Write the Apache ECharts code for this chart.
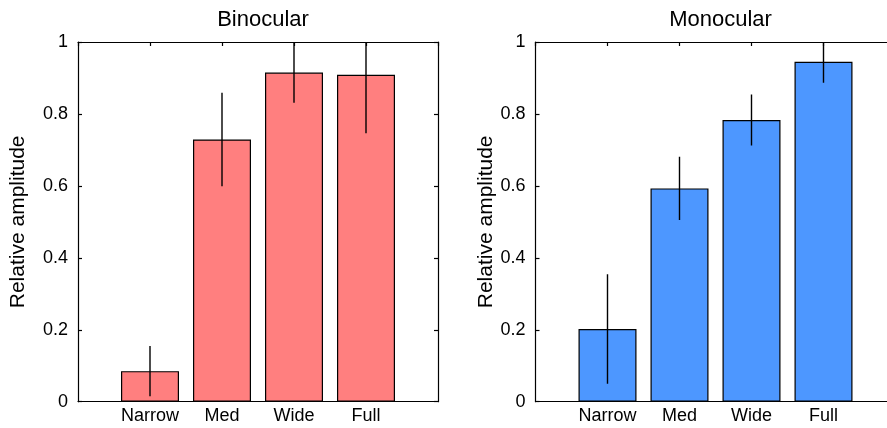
<!DOCTYPE html>
<html>
<head>
<meta charset="utf-8">
<script src="https://cdn.jsdelivr.net/npm/echarts@6/dist/echarts.min.js"></script>
<style>
html,body{margin:0;padding:0;background:#fff;overflow:hidden;}
#chart{width:887px;height:428px;}
</style>
</head>
<body>
<div id="chart"></div>
<script>
var categories = ['Narrow', 'Med', 'Wide', 'Full'];
var panelTitles = ['Binocular', 'Monocular'];
var yTicks = [0, 0.2, 0.4, 0.6, 0.8, 1];
var binocularValues = [0.085, 0.729, 0.915, 0.909];
var binocularErrors = [0.070, 0.130, 0.084, 0.163];
var monocularValues = [0.202, 0.593, 0.783, 0.945];
var monocularErrors = [0.152, 0.088, 0.071, 0.058];

var FONT = 'Liberation Sans, Arial, Helvetica, sans-serif';
var colors = ['#FF7F7F', '#4D97FF'];
var panels = [
  {left: 78, width: 360, values: binocularValues, errors: binocularErrors, gap: 49, rightLine: true},
  {left: 535.5, width: 360, values: monocularValues, errors: monocularErrors, gap: 38, rightLine: false}
];

var grids = [], xAxes = [], yAxes = [], series = [], titles = [];
var lineStyle = {color: '#000', width: 1.2};
panels.forEach(function (p, i) {
  grids.push({left: p.left, top: 42, width: p.width, height: 359.7, containLabel: false, outerBoundsMode: 'none'});
  titles.push({
    text: panelTitles[i], left: p.left + p.width / 2, top: 4, textAlign: 'center',
    textStyle: {fontFamily: FONT, fontSize: 22, fontWeight: 'normal', color: '#000'}
  });
  xAxes.push({
    gridIndex: i, type: 'value', min: 0, max: categories.length + 1, interval: 1,
    position: 'bottom',
    axisLine: {show: true, onZero: false, lineStyle: lineStyle},
    axisTick: {show: true, inside: true, length: 4, lineStyle: lineStyle},
    axisLabel: {
      fontFamily: FONT, fontSize: 18, color: '#000', margin: 5,
      showMinLabel: false, showMaxLabel: false,
      formatter: function (v) { return categories[v - 1] || ''; }
    },
    splitLine: {show: false}
  });
  xAxes.push({
    gridIndex: i, type: 'value', min: 0, max: categories.length + 1, interval: 1,
    position: 'top',
    axisLine: {show: true, onZero: false, lineStyle: lineStyle},
    axisTick: {show: true, inside: true, length: 4, lineStyle: lineStyle},
    axisLabel: {show: false},
    splitLine: {show: false}
  });
  yAxes.push({
    gridIndex: i, type: 'value', min: yTicks[0], max: yTicks[yTicks.length - 1], interval: 0.2,
    position: 'left',
    name: 'Relative amplitude', nameLocation: 'middle', nameGap: p.gap,
    nameTextStyle: {fontFamily: FONT, fontSize: 21, color: '#000'},
    axisLine: {show: true, onZero: false, lineStyle: lineStyle},
    axisTick: {show: true, inside: true, length: 4, lineStyle: lineStyle},
    axisLabel: {
      fontFamily: FONT, fontSize: 18, color: '#000', margin: 10,
      formatter: function (v) { return String(Math.round(v * 10) / 10); }
    },
    splitLine: {show: false}
  });
  yAxes.push({
    gridIndex: i, type: 'value', min: yTicks[0], max: yTicks[yTicks.length - 1], interval: 0.2,
    position: 'right', show: p.rightLine,
    axisLine: {show: true, onZero: false, lineStyle: lineStyle},
    axisTick: {show: true, inside: true, length: 4, lineStyle: lineStyle},
    axisLabel: {show: false},
    splitLine: {show: false}
  });
  var barData = p.values.map(function (v, k) { return [k + 1, v]; });
  series.push({
    type: 'bar', xAxisIndex: i * 2, yAxisIndex: i * 2,
    data: barData, barWidth: 58,
    itemStyle: {color: colors[i], borderColor: '#000', borderWidth: 1.2},
    silent: true, z: 2
  });
  var errData = p.values.map(function (v, k) { return [k + 1, v - p.errors[k], v + p.errors[k]]; });
  series.push({
    type: 'custom', xAxisIndex: i * 2, yAxisIndex: i * 2,
    data: errData, clip: true, z: 3, silent: true,
    renderItem: function (params, api) {
      var a = api.coord([api.value(0), api.value(1)]);
      var b = api.coord([api.value(0), api.value(2)]);
      return {
        type: 'line',
        shape: {x1: a[0], y1: a[1], x2: b[0], y2: b[1]},
        style: {stroke: '#000', lineWidth: 1.4}
      };
    }
  });
});

var chart = echarts.init(document.getElementById('chart'), null, {renderer: 'canvas'});
chart.setOption({
  animation: false,
  backgroundColor: '#fff',
  title: titles,
  grid: grids,
  xAxis: xAxes,
  yAxis: yAxes,
  series: series
});
</script>
</body>
</html>
